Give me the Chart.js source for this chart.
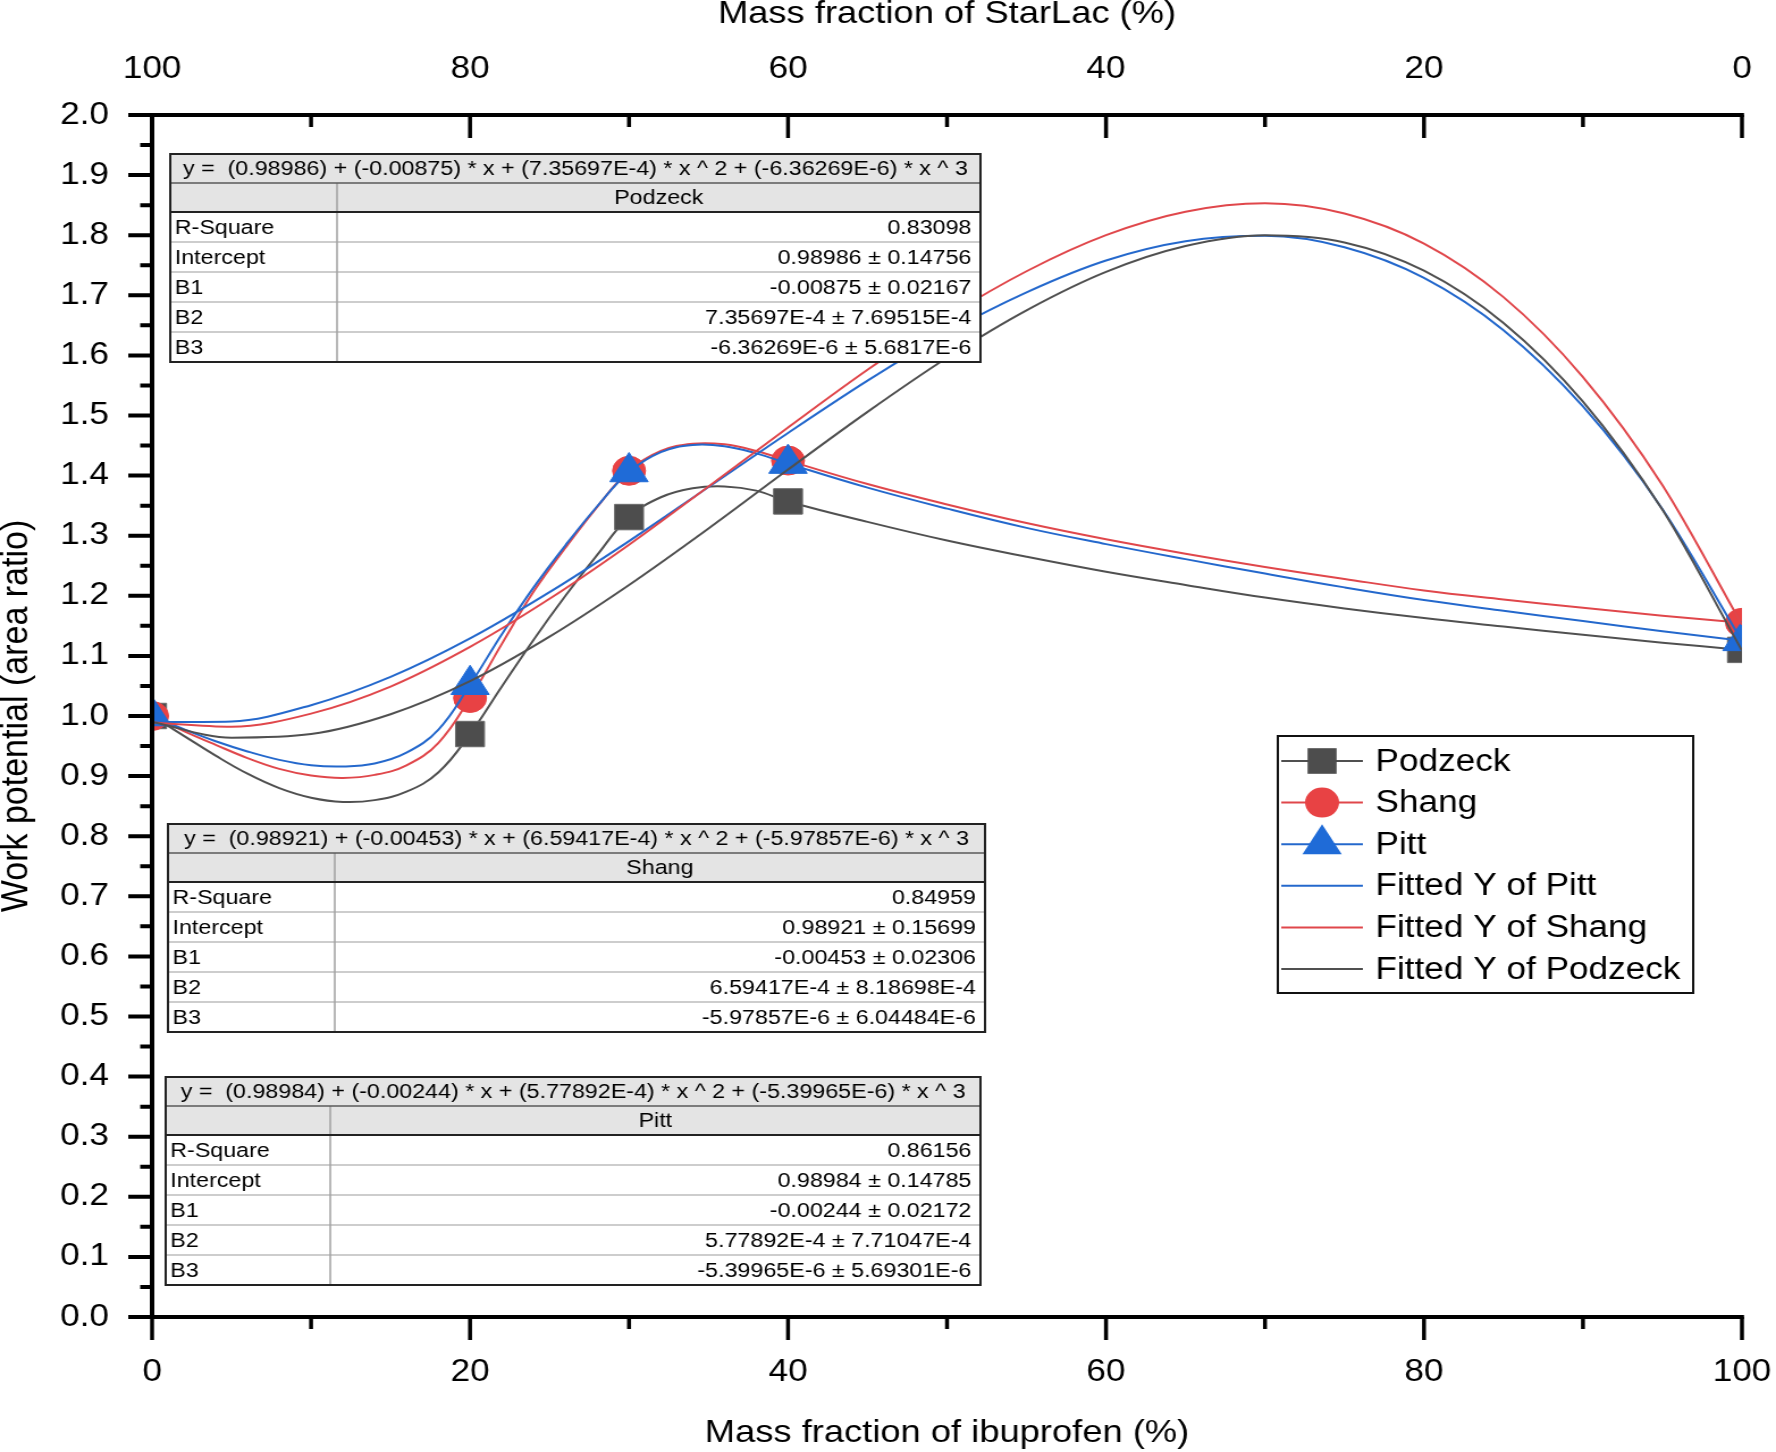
<!DOCTYPE html>
<html>
<head>
<meta charset="utf-8">
<title>Work potential vs mass fraction</title>
<script src="https://cdn.jsdelivr.net/npm/chart.js@4.4.1/dist/chart.umd.min.js"></script>
<style>
  html, body { margin: 0; padding: 0; background: #fff; }
  #myChart { display: block; }
</style>
</head>
<body>
<!-- drawn at 1565 px wide and shown at 1776 px: the original figure is stretched sideways -->
<canvas id="myChart" width="1565" height="1452" style="width:1776px;height:1452px"></canvas>
<script>
// measured points, x = mass fraction of ibuprofen (%)
const massFraction = [0, 20, 30, 40, 100];
const podzeck = [1.000, 0.970, 1.331, 1.357, 1.110];
const shang   = [1.000, 1.030, 1.408, 1.425, 1.155];
const pitt    = [1.000, 1.052, 1.406, 1.420, 1.125];

// spline lines joining the points
const splineX = [0, 2, 4, 6, 8, 10, 12, 14, 16, 18, 20, 22, 24, 26, 28, 30, 32, 34, 36, 38, 40,
                 45, 50, 55, 60, 65, 70, 75, 80, 85, 90, 95, 100];
const podzeckSpline = [1.000, 0.967, 0.934, 0.904, 0.880, 0.864, 0.857, 0.860, 0.874, 0.906, 0.970,
                       1.049, 1.127, 1.200, 1.268, 1.331, 1.364, 1.379, 1.382, 1.375, 1.357,
                       1.323, 1.292, 1.265, 1.240, 1.218, 1.197, 1.179, 1.163, 1.149, 1.135, 1.122, 1.110];
const shangSpline   = [1.000, 0.975, 0.952, 0.930, 0.912, 0.901, 0.897, 0.902, 0.918, 0.955, 1.030,
                       1.120, 1.207, 1.280, 1.348, 1.408, 1.441, 1.453, 1.452, 1.441, 1.425,
                       1.386, 1.352, 1.321, 1.294, 1.270, 1.248, 1.228, 1.209, 1.194, 1.180, 1.167, 1.155];
const pittSpline    = [1.000, 0.978, 0.958, 0.941, 0.927, 0.918, 0.916, 0.921, 0.939, 0.977, 1.052,
                       1.136, 1.214, 1.284, 1.349, 1.406, 1.439, 1.451, 1.449, 1.437, 1.420,
                       1.380, 1.345, 1.313, 1.286, 1.261, 1.237, 1.214, 1.193, 1.175, 1.158, 1.141, 1.125];

// fitted cubic curves, read every 5 %
const fitX = [0, 5, 10, 15, 20, 25, 30, 35, 40, 45, 50, 55, 60, 65, 70, 75, 80, 85, 90, 95, 100];
const fitPodzeck = [0.990, 0.964, 0.970, 1.003, 1.058, 1.132, 1.218, 1.312, 1.410, 1.506, 1.596, 1.675, 1.739, 1.782, 1.800, 1.788, 1.741, 1.654, 1.523, 1.343, 1.109];
const fitShang   = [0.989, 0.982, 1.004, 1.049, 1.115, 1.195, 1.285, 1.382, 1.480, 1.576, 1.664, 1.740, 1.800, 1.839, 1.853, 1.836, 1.786, 1.697, 1.564, 1.384, 1.152];
const fitPitt    = [0.990, 0.991, 1.018, 1.065, 1.129, 1.206, 1.291, 1.381, 1.471, 1.558, 1.638, 1.705, 1.758, 1.790, 1.799, 1.780, 1.729, 1.642, 1.515, 1.344, 1.125];

// fit report tables
const fitNames = ['Podzeck', 'Shang', 'Pitt'];
const fitEquations = [
  'y =  (0.98986) + (-0.00875) * x + (7.35697E-4) * x ^ 2 + (-6.36269E-6) * x ^ 3',
  'y =  (0.98921) + (-0.00453) * x + (6.59417E-4) * x ^ 2 + (-5.97857E-6) * x ^ 3',
  'y =  (0.98984) + (-0.00244) * x + (5.77892E-4) * x ^ 2 + (-5.39965E-6) * x ^ 3'
];
const rowLabels = ['R-Square', 'Intercept', 'B1', 'B2', 'B3'];
const rSquare = ['0.83098', '0.84959', '0.86156'];
const intercept = ['0.98986 ± 0.14756', '0.98921 ± 0.15699', '0.98984 ± 0.14785'];
const b1 = ['-0.00875 ± 0.02167', '-0.00453 ± 0.02306', '-0.00244 ± 0.02172'];
const b2 = ['7.35697E-4 ± 7.69515E-4', '6.59417E-4 ± 8.18698E-4', '5.77892E-4 ± 7.71047E-4'];
const b3 = ['-6.36269E-6 ± 5.6817E-6', '-5.97857E-6 ± 6.04484E-6', '-5.39965E-6 ± 5.69301E-6'];

const FONT = '"Liberation Sans", Arial, Helvetica, sans-serif';
const GRAY = '#4d4d4d', RED = '#e84244', BLUE = '#1f6bd7';
const GRAY_LINE = '#505050', RED_LINE = '#e0474b', BLUE_LINE = '#2468cc';

function pairs(xs, ys) {
  return xs.map((x, i) => ({x: x, y: ys[i]}));
}

// spline joins use bezier tension, the fitted curves monotone cubic
function curve(label, xs, ys, color, order, smooth) {
  const ds = {
    label: label, data: pairs(xs, ys), borderColor: color, borderWidth: 2,
    pointRadius: 0, fill: false, clip: 0, order: order
  };
  if (smooth === 'monotone') ds.cubicInterpolationMode = 'monotone';
  else ds.tension = 0.4;
  return ds;
}

function markers(label, ys, style, radius, color, edge, order) {
  return {
    label: label, data: pairs(massFraction, ys), showLine: false,
    pointStyle: style, pointRadius: radius, pointBackgroundColor: color,
    pointBorderColor: edge, pointBorderWidth: 1, clip: 0, order: order
  };
}

// axis lines and tick marks (major/minor lengths differ, so they are drawn here)
const axisFrame = {
  id: 'axisFrame',
  afterDatasetsDraw(chart) {
    const {ctx, chartArea: a} = chart;
    const x = chart.scales.x, y = chart.scales.y;
    ctx.save();
    ctx.strokeStyle = '#000';
    ctx.lineWidth = 4;
    ctx.beginPath();
    ctx.moveTo(a.left, a.top - 2); ctx.lineTo(a.left, a.bottom + 2);
    ctx.moveTo(a.left, a.bottom); ctx.lineTo(a.right + 1.8, a.bottom);
    ctx.moveTo(a.left, a.top); ctx.lineTo(a.right + 1.8, a.top);
    ctx.stroke();

    ctx.lineWidth = 3.5;
    ctx.beginPath();
    for (let v = 0; v <= 100; v += 10) {
      const px = x.getPixelForValue(v);
      const len = v % 20 === 0 ? 23 : 12;
      ctx.moveTo(px, a.bottom); ctx.lineTo(px, a.bottom + len);
      ctx.moveTo(px, a.top); ctx.lineTo(px, a.top + len);
    }
    ctx.stroke();

    ctx.lineWidth = 4;
    ctx.beginPath();
    for (let i = 0; i <= 40; i++) {
      const py = y.getPixelForValue(i * 0.05);
      const len = i % 2 === 0 ? 21 : 10.5;
      ctx.moveTo(a.left, py); ctx.lineTo(a.left - len, py);
    }
    ctx.stroke();
    ctx.restore();
  }
};

// the three fit report tables
const fitTables = {
  id: 'fitTables',
  afterDatasetsDraw(chart) {
    const ctx = chart.ctx;
    const boxes = [
      {left: 150, right: 864, top: 154, split: 297},
      {left: 148, right: 868, top: 824, split: 295},
      {left: 146, right: 864, top: 1077, split: 291}
    ];
    const eqH = 29, headH = 29, rowH = 30;
    ctx.save();
    boxes.forEach((b, t) => {
      const w = b.right - b.left;
      const bodyTop = b.top + eqH + headH;
      const bottom = bodyTop + rowH * rowLabels.length;
      ctx.fillStyle = '#fff';
      ctx.fillRect(b.left, b.top, w, bottom - b.top);
      ctx.fillStyle = '#e4e4e4';
      ctx.fillRect(b.left, b.top, w, eqH + headH);

      ctx.strokeStyle = '#cdcdcd';
      ctx.lineWidth = 2;
      ctx.beginPath();
      for (let r = 1; r < rowLabels.length; r++) {
        ctx.moveTo(b.left, bodyTop + r * rowH);
        ctx.lineTo(b.right, bodyTop + r * rowH);
      }
      ctx.stroke();

      ctx.strokeStyle = '#a0a0a0';
      ctx.lineWidth = 1.5;
      ctx.beginPath();
      ctx.moveTo(b.split, b.top + eqH); ctx.lineTo(b.split, bottom);
      ctx.stroke();

      ctx.strokeStyle = '#5a5a5a';
      ctx.lineWidth = 1.5;
      ctx.beginPath();
      ctx.moveTo(b.left, b.top + eqH); ctx.lineTo(b.right, b.top + eqH);
      ctx.stroke();

      ctx.strokeStyle = '#222';
      ctx.lineWidth = 2;
      ctx.beginPath();
      ctx.moveTo(b.left, bodyTop); ctx.lineTo(b.right, bodyTop);
      ctx.stroke();
      ctx.strokeRect(b.left, b.top, w, bottom - b.top);

      const values = [rSquare[t], intercept[t], b1[t], b2[t], b3[t]];
      ctx.fillStyle = '#000';
      ctx.font = '20.5px ' + FONT;
      ctx.textBaseline = 'middle';
      ctx.textAlign = 'center';
      ctx.fillText(fitEquations[t], b.left + w / 2, b.top + eqH / 2 + 1);
      ctx.fillText(fitNames[t], (b.split + b.right) / 2, b.top + eqH + headH / 2 + 1);
      rowLabels.forEach((lab, r) => {
        const cy = bodyTop + r * rowH + rowH / 2 + 1;
        ctx.textAlign = 'left';
        ctx.fillText(lab, b.left + 4, cy);
        ctx.textAlign = 'right';
        ctx.fillText(values[r], b.right - 8, cy);
      });
    });
    ctx.restore();
  }
};

// legend box with line + marker samples
const legendItems = [
  {text: 'Podzeck', line: GRAY_LINE, marker: 'rect', color: GRAY},
  {text: 'Shang', line: RED_LINE, marker: 'circle', color: RED},
  {text: 'Pitt', line: BLUE_LINE, marker: 'triangle', color: BLUE},
  {text: 'Fitted Y of Pitt', line: BLUE_LINE},
  {text: 'Fitted Y of Shang', line: RED_LINE},
  {text: 'Fitted Y of Podzeck', line: GRAY_LINE}
];

const boxLegend = {
  id: 'boxLegend',
  afterDraw(chart) {
    const ctx = chart.ctx;
    const left = 1126, top = 736, width = 366, height = 257;
    ctx.save();
    ctx.fillStyle = '#fff';
    ctx.fillRect(left, top, width, height);
    ctx.strokeStyle = '#111';
    ctx.lineWidth = 2;
    ctx.strokeRect(left, top, width, height);
    legendItems.forEach((item, i) => {
      const cy = top + 25 + i * 41.6;
      const cx = left + 39;
      ctx.strokeStyle = item.line;
      ctx.lineWidth = 2;
      ctx.beginPath();
      ctx.moveTo(left + 3, cy); ctx.lineTo(left + 75, cy);
      ctx.stroke();
      ctx.fillStyle = item.color;
      if (item.marker === 'rect') {
        ctx.fillRect(cx - 12.8, cy - 12.8, 25.6, 25.6);
      } else if (item.marker === 'circle') {
        ctx.beginPath();
        ctx.arc(cx, cy, 15, 0, Math.PI * 2);
        ctx.fill();
      } else if (item.marker === 'triangle') {
        ctx.beginPath();
        ctx.moveTo(cx, cy - 20);
        ctx.lineTo(cx + 17.3, cy + 10);
        ctx.lineTo(cx - 17.3, cy + 10);
        ctx.closePath();
        ctx.fill();
      }
      ctx.fillStyle = '#000';
      ctx.font = '31px ' + FONT;
      ctx.textAlign = 'left';
      ctx.textBaseline = 'middle';
      ctx.fillText(item.text, left + 86, cy + 1);
    });
    ctx.restore();
  }
};

Chart.defaults.font.family = FONT;
Chart.defaults.color = '#000';

const tickFont = {size: 31};
const noGrid = {display: false, drawTicks: false};

let ctx = document.getElementById('myChart').getContext('2d');
let myChart = new Chart(ctx, {
  type: 'line',
  data: {
    datasets: [
      curve('Fitted Y of Podzeck', fitX, fitPodzeck, GRAY_LINE, 1, 'monotone'),
      curve('Fitted Y of Shang', fitX, fitShang, RED_LINE, 2, 'monotone'),
      curve('Fitted Y of Pitt', fitX, fitPitt, BLUE_LINE, 3, 'monotone'),
      markers('Pitt', pitt, 'triangle', 19.5, BLUE, BLUE, 4),
      curve('Pitt spline', splineX, pittSpline, BLUE_LINE, 5),
      markers('Shang', shang, 'circle', 14.5, RED, RED, 6),
      curve('Shang spline', splineX, shangSpline, RED_LINE, 7),
      markers('Podzeck', podzeck, 'rect', 18, GRAY, '#6a6a6a', 8),
      curve('Podzeck spline', splineX, podzeckSpline, GRAY_LINE, 9)
    ]
  },
  options: {
    responsive: false,
    animation: false,
    events: [],
    layout: {autoPadding: false, padding: {left: 0, right: 30, top: 0, bottom: 0}},
    plugins: {
      legend: {display: false},
      tooltip: {enabled: false}
    },
    scales: {
      x: {
        type: 'linear', position: 'bottom', min: 0, max: 100,
        ticks: {stepSize: 20, padding: 37, font: tickFont, maxRotation: 0, autoSkip: false},
        grid: noGrid,
        border: {display: false},
        title: {display: true, text: 'Mass fraction of ibuprofen (%)', font: {size: 32, lineHeight: 1.15}, padding: 0},
        afterFit(s) { s.height = 135; s.paddingLeft = 0; s.paddingRight = 0; }
      },
      x2: {
        type: 'linear', position: 'top', min: 0, max: 100, reverse: true,
        ticks: {stepSize: 20, padding: 27, font: tickFont, maxRotation: 0, autoSkip: false},
        grid: noGrid,
        border: {display: false},
        title: {display: true, text: 'Mass fraction of StarLac (%)', font: {size: 32, lineHeight: 0.9}, padding: 0},
        afterFit(s) { s.height = 115; s.paddingLeft = 0; s.paddingRight = 0; }
      },
      y: {
        type: 'linear', min: 0, max: 2,
        ticks: {stepSize: 0.1, maxTicksLimit: 21, padding: 38, font: tickFont, callback: v => v.toFixed(1)},
        grid: noGrid,
        border: {display: false},
        title: {display: true, text: 'Work potential (area ratio)', font: {size: 34, lineHeight: 0.85}, padding: 0},
        afterFit(s) { s.width = 134; s.paddingTop = 0; s.paddingBottom = 0; }
      }
    }
  },
  plugins: [axisFrame, fitTables, boxLegend]
});
</script>
</body>
</html>
